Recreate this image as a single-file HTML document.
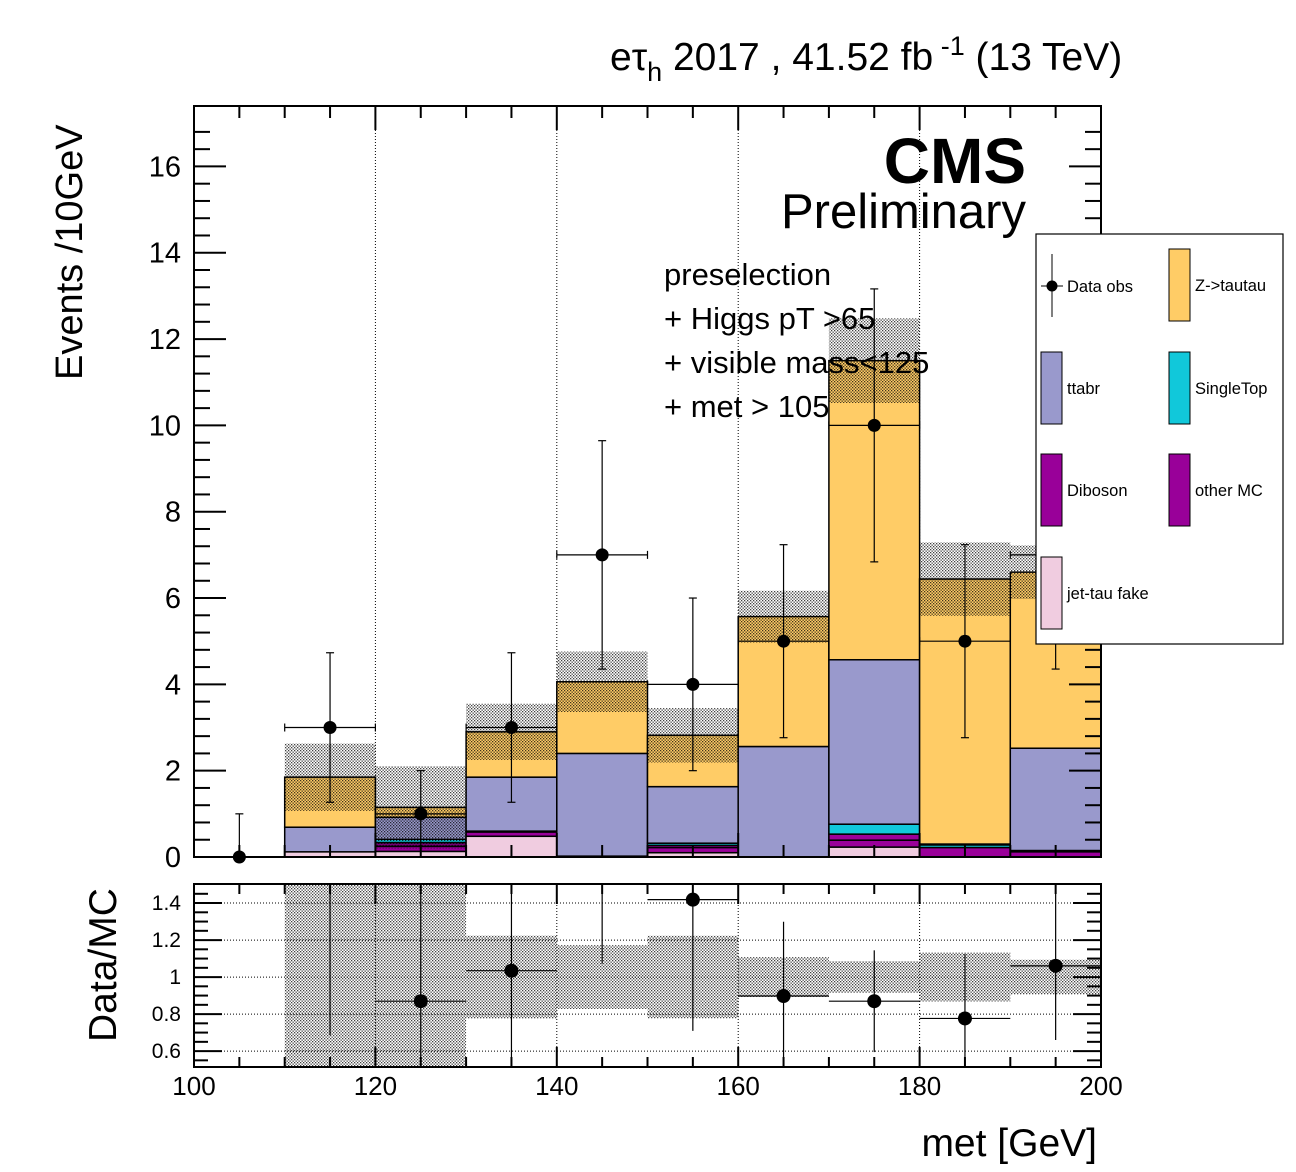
<!DOCTYPE html>
<html><head><meta charset="utf-8"><style>
body{margin:0;background:#fff;}
svg{display:block;font-family:"Liberation Sans",sans-serif;}
</style></head><body>
<svg id="c" width="1296" height="1172" xmlns="http://www.w3.org/2000/svg">
<defs>
<pattern id="hatch" width="3" height="3" patternUnits="userSpaceOnUse"><rect x="0" y="0" width="1.3" height="1.3" fill="#000" fill-opacity="0.75"/><rect x="1.5" y="1.5" width="1.3" height="1.3" fill="#000" fill-opacity="0.75"/></pattern>
</defs>
<g id="main"></g>
</svg>
<script>
const binEdgesLow=[100,110,120,130,140,150,160,170,180,190];
const jetFake=[0,0.12,0.13,0.48,0.02,0.1,0,0.23,0,0];
const diboson=[0,0,0.12,0.1,0,0.12,0,0.16,0.22,0.12];
const otherMC=[0,0,0.08,0.02,0,0.05,0,0.14,0,0.03];
const singleTop=[0,0,0.08,0,0,0.05,0,0.23,0.06,0];
const ttbar=[0,0.57,0.51,1.25,2.38,1.31,2.56,3.81,0.02,2.37];
const ztt=[0,1.16,0.23,1.05,1.66,1.19,3.01,6.93,6.14,4.08];
const mcUnc=[0,0.78,0.95,0.65,0.7,0.63,0.6,0.98,0.85,0.62];
const dataObs=[0,3,1,3,7,4,5,10,5,7];
const yTicks=[0,2,4,6,8,10,12,14,16];
const rTicks=[0.6,0.8,1,1.2,1.4];
const xTicks=[100,120,140,160,180,200];

const NS="http://www.w3.org/2000/svg";
const g=document.getElementById('main');
function el(t,a,p){const e=document.createElementNS(NS,t);for(const k in a)e.setAttribute(k,a[k]);(p||g).appendChild(e);return e;}
const X0=194,X1=1101,Y0=857,YT=106,RY0=1067,RYT=884;
const xs=v=>X0+(v-100)*(X1-X0)/100;
const ys=v=>Y0-v*(Y0-YT)/17.4;
const rMin=0.514,rMax=1.503;
const rs=v=>RY0-(v-rMin)*(RY0-RYT)/(rMax-rMin);
const rc=v=>Math.max(RYT,Math.min(RY0,rs(v)));

let t;
t=el('text',{x:610,y:70,'font-size':39});t.innerHTML='eτ<tspan font-size="27" dy="11">h</tspan><tspan dy="-11"> 2017 , 41.52 fb</tspan><tspan font-size="27" dy="-15"> -1</tspan><tspan dy="15"> (13 TeV)</tspan>';



[120,140,160,180].forEach(v=>{const l=el('line',{x1:xs(v),x2:xs(v),y1:YT,y2:Y0,stroke:'#000','stroke-width':1,'stroke-dasharray':'1,2'});

});

const colors={jet:'#f0cce0',dib:'#990099',oth:'#990099',st:'#11c8da',tt:'#9999cc',zt:'#ffcc66'};
const series=[[jetFake,colors.jet,'jet-fake'],[diboson,colors.dib,'diboson'],[otherMC,colors.oth,'other-mc'],[singleTop,colors.st,'single-top'],[ttbar,colors.tt,'ttbar'],[ztt,colors.zt,'ztautau']];
const totals=[];
for(let i=0;i<binEdgesLow.length;i++){
  let cum=0;
  series.forEach(s=>{const v=s[0][i];if(v>0){const r=el('rect',{x:xs(binEdgesLow[i]),width:xs(binEdgesLow[i]+10)-xs(binEdgesLow[i]),y:ys(cum+v),height:ys(cum)-ys(cum+v),fill:s[1],stroke:'#000','stroke-width':1.5});
    
    }cum+=v;});
  totals.push(cum);
}
for(let i=0;i<binEdgesLow.length;i++){if(mcUnc[i]>0){const r=el('rect',{x:xs(binEdgesLow[i]),width:xs(binEdgesLow[i]+10)-xs(binEdgesLow[i]),y:ys(totals[i]+mcUnc[i]),height:ys(totals[i]-mcUnc[i])-ys(totals[i]+mcUnc[i]),fill:'url(#hatch)'});
  
  }}

['preselection','+ Higgs pT >65','+ visible mass<125','+ met > 105'].forEach((s,i)=>{const e=el('text',{x:664,y:285+i*44,'font-size':31});e.textContent=s;

});
t=el('text',{x:1026,y:183,'font-size':64,'font-weight':'bold','text-anchor':'end'});t.textContent='CMS';


t=el('text',{x:1026,y:228,'font-size':49,'text-anchor':'end'});t.textContent='Preliminary';



for(let i=0;i<dataObs.length;i++){
  const n=dataObs[i],c=binEdgesLow[i]+5,up=n>0?Math.sqrt(n):1,dn=n>0?Math.sqrt(n):0;
  const gp=el('g',{});
  
  
  el('line',{x1:xs(c),x2:xs(c),y1:ys(n+up),y2:ys(n-dn),stroke:'#000','stroke-width':1.2},gp);
  el('line',{x1:xs(c)-4,x2:xs(c)+4,y1:ys(n+up),y2:ys(n+up),stroke:'#000','stroke-width':1.2},gp);
  if(dn>0)el('line',{x1:xs(c)-4,x2:xs(c)+4,y1:ys(n-dn),y2:ys(n-dn),stroke:'#000','stroke-width':1.2},gp);
  if(n>0){el('line',{x1:xs(c-5),x2:xs(c+5),y1:ys(n),y2:ys(n),stroke:'#000','stroke-width':1.2},gp);
  [c-5,c+5].forEach(e=>el('line',{x1:xs(e),x2:xs(e),y1:ys(n)-4,y2:ys(n)+4,stroke:'#000','stroke-width':1.2},gp));}
  el('circle',{cx:xs(c),cy:ys(n),r:6.5,fill:'#000'},gp);
}

el('rect',{x:X0,y:YT,width:X1-X0,height:Y0-YT,fill:'none',stroke:'#000','stroke-width':2});
for(let v=0;v<=17.2;v+=0.4){const maj=Math.abs(v/2-Math.round(v/2))<1e-6;const L=maj?32:16;
  el('line',{x1:X0,x2:X0+L,y1:ys(v),y2:ys(v),stroke:'#000','stroke-width':2});
  el('line',{x1:X1,x2:X1-L,y1:ys(v),y2:ys(v),stroke:'#000','stroke-width':2});}
yTicks.forEach(v=>{const e=el('text',{x:181,y:ys(v)+10,'font-size':29,'text-anchor':'end'});e.textContent=v;

});
for(let v=100;v<=200;v+=5){const L=v%20==0?24:12;
  el('line',{x1:xs(v),x2:xs(v),y1:Y0,y2:Y0-L,stroke:'#000','stroke-width':2});
  el('line',{x1:xs(v),x2:xs(v),y1:YT,y2:YT+L,stroke:'#000','stroke-width':2});}
t=el('text',{transform:'translate(82,380) rotate(-90)','font-size':38});t.textContent='Events /10GeV';



const lg=el('g',{});


el('rect',{x:1036,y:234,width:247,height:410,fill:'#fff',stroke:'#000','stroke-width':1.2},lg);
const legItems=[['Z->tautau',colors.zt,1169,249],['ttabr',colors.tt,1041,352],['SingleTop',colors.st,1169,352],['Diboson',colors.dib,1041,454],['other MC',colors.oth,1169,454],['jet-tau fake',colors.jet,1041,557]];
legItems.forEach(it=>{const e=el('g',{},lg);
  
  
  el('rect',{x:it[2],y:it[3],width:21,height:72,fill:it[1],stroke:'#000','stroke-width':1},e);
  const tx=el('text',{x:it[2]+26,y:it[3]+42,'font-size':16.5},e);tx.textContent=it[0];});
const de=el('g',{},lg);


el('line',{x1:1052,x2:1052,y1:254,y2:317,stroke:'#000'},de);el('line',{x1:1041,x2:1063,y1:286,y2:286,stroke:'#000'},de);
el('circle',{cx:1052,cy:286,r:5.5,fill:'#000'},de);
const dt=el('text',{x:1067,y:292,'font-size':16.5},de);dt.textContent='Data obs';

[120,140,160,180].forEach(v=>{const l=el('line',{x1:xs(v),x2:xs(v),y1:RYT,y2:RY0,stroke:'#000','stroke-dasharray':'1,2'});

});
rTicks.forEach(v=>{const l=el('line',{x1:X0,x2:X1,y1:rs(v),y2:rs(v),stroke:'#000','stroke-dasharray':'1,2'});

});
for(let i=0;i<binEdgesLow.length;i++){if(totals[i]>0){const rel=mcUnc[i]/totals[i]*(totals[i]<2?1.25:1);
  const r=el('rect',{x:xs(binEdgesLow[i]),width:xs(binEdgesLow[i]+10)-xs(binEdgesLow[i]),y:rc(1+rel),height:rc(1-rel)-rc(1+rel),fill:'url(#hatch)'});
  
  }}
for(let i=0;i<dataObs.length;i++){if(totals[i]<=0||dataObs[i]<=0)continue;
  const n=dataObs[i],c=binEdgesLow[i]+5,r=n/totals[i],e=Math.sqrt(n)/totals[i];
  const gp=el('g',{});
  
  
  el('line',{x1:xs(c),x2:xs(c),y1:rc(r+e),y2:rc(r-e),stroke:'#000','stroke-width':1.2},gp);
  if(r>=rMin&&r<=rMax){el('line',{x1:xs(c-5),x2:xs(c+5),y1:rs(r),y2:rs(r),stroke:'#000','stroke-width':1.2},gp);
  el('circle',{cx:xs(c),cy:rs(r),r:7,fill:'#000'},gp);}
}
el('rect',{x:X0,y:RYT,width:X1-X0,height:RY0-RYT,fill:'none',stroke:'#000','stroke-width':2});
for(let v=0.55;v<=1.5;v+=0.05){const maj=Math.abs(v*5-Math.round(v*5))<1e-6;const L=maj?28:14;
  el('line',{x1:X0,x2:X0+L,y1:rs(v),y2:rs(v),stroke:'#000','stroke-width':2});
  el('line',{x1:X1,x2:X1-L,y1:rs(v),y2:rs(v),stroke:'#000','stroke-width':2});}
rTicks.forEach(v=>{const e=el('text',{x:181,y:rs(v)+7,'font-size':21,'text-anchor':'end'});e.textContent=v;

});
for(let v=100;v<=200;v+=5){const L=v%20==0?20:10;
  el('line',{x1:xs(v),x2:xs(v),y1:RY0,y2:RY0-L,stroke:'#000','stroke-width':2});
  el('line',{x1:xs(v),x2:xs(v),y1:RYT,y2:RYT+L,stroke:'#000','stroke-width':2});}
xTicks.forEach(v=>{const e=el('text',{x:xs(v),y:1095,'font-size':26,'text-anchor':'middle'});e.textContent=v;

});
t=el('text',{transform:'translate(116,1042) rotate(-90)','font-size':39});t.textContent='Data/MC';


t=el('text',{x:1097,y:1156,'font-size':39,'text-anchor':'end'});t.textContent='met [GeV]';


</script>
</body></html>
